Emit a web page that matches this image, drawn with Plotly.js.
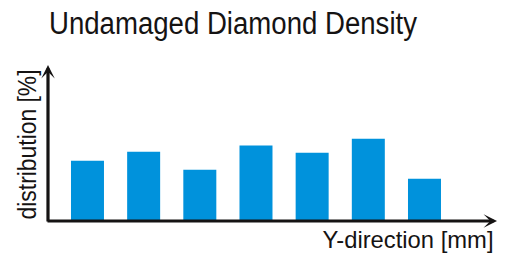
<!DOCTYPE html>
<html>
<head>
<meta charset="utf-8">
<script src="https://cdn.plot.ly/plotly-3.0.1.min.js"></script>
<style>
html,body{margin:0;padding:0;background:#fff;}
#chart{width:507px;height:255px;}
</style>
</head>
<body>
<div id="chart"></div>
<script>
// Data (share of total, %)
const categories = [1, 2, 3, 4, 5, 6, 7];
const distribution = [13.4, 15.4, 11.4, 16.8, 15.2, 18.3, 9.4];
const titleText = "Undamaged Diamond Density";
const xLabel = "Y-direction [mm]";
const yLabel = "distribution [%]";

const FONT = '"Liberation Sans", Arial, sans-serif';
const INK = '#151313';

const trace = {
  type: 'bar',
  x: categories,
  y: distribution,
  marker: {color: '#0092dc', line: {width: 0}},
  width: 0.5875,
  hoverinfo: 'skip'
};

const layout = {
  width: 507, height: 255,
  margin: {l: 48, r: 10, t: 65, b: 33.5, pad: 0},
  paper_bgcolor: '#fff', plot_bgcolor: '#fff',
  showlegend: false,
  title: {
    text: titleText,
    font: {family: FONT, size: 31, color: INK},
    x: 49/507, xanchor: 'left', xref: 'container',
    y: 1 - 23/255, yanchor: 'middle', yref: 'container'
  },
  xaxis: {
    range: [0.297, 8.291],
    showgrid: false, zeroline: false, showline: false,
    showticklabels: false, ticks: '', fixedrange: true
  },
  yaxis: {
    range: [0, 34.74],
    showgrid: false, zeroline: false, showline: false,
    showticklabels: false, ticks: '', fixedrange: true
  },
  annotations: [
    // x axis arrow
    {xref: 'paper', yref: 'paper', x: 1, y: 0, ax: -451, ay: 0, axref: 'pixel', ayref: 'pixel',
     text: '', showarrow: true, arrowhead: 3, arrowsize: 0.7, arrowwidth: 3.2, arrowcolor: INK, standoff: 0},
    // y axis arrow
    {xref: 'paper', yref: 'paper', x: 0, y: 1, ax: 0, ay: 158, axref: 'pixel', ayref: 'pixel',
     text: '', showarrow: true, arrowhead: 3, arrowsize: 0.7, arrowwidth: 3.2, arrowcolor: INK, standoff: 0},
    // y label
    {xref: 'paper', yref: 'paper', x: (27 - 48) / 449, y: 0.489, xanchor: 'center', yanchor: 'middle',
     text: yLabel, textangle: -90, showarrow: false,
     font: {family: FONT, size: 26, color: INK}},
    // x label
    {xref: 'paper', yref: 'paper', x: (407.5 - 48) / 449, y: -0.118, xanchor: 'center', yanchor: 'middle',
     text: xLabel, showarrow: false,
     font: {family: FONT, size: 24.5, color: INK}}
  ]
};

Plotly.newPlot('chart', [trace], layout, {displayModeBar: false, staticPlot: true}).then(function (gd) {
  // condense the lettering horizontally like the narrow face of the original
  function fit(el, len) {
    if (!el) return;
    el.setAttribute('textLength', len);
    el.setAttribute('lengthAdjust', 'spacingAndGlyphs');
  }
  fit(gd.querySelector('.gtitle'), 368);
  gd.querySelectorAll('.annotation-text').forEach(function (t) {
    if (t.textContent === yLabel) fit(t, 150);
    if (t.textContent === xLabel) fit(t, 171);
  });
});
</script>
</body>
</html>
